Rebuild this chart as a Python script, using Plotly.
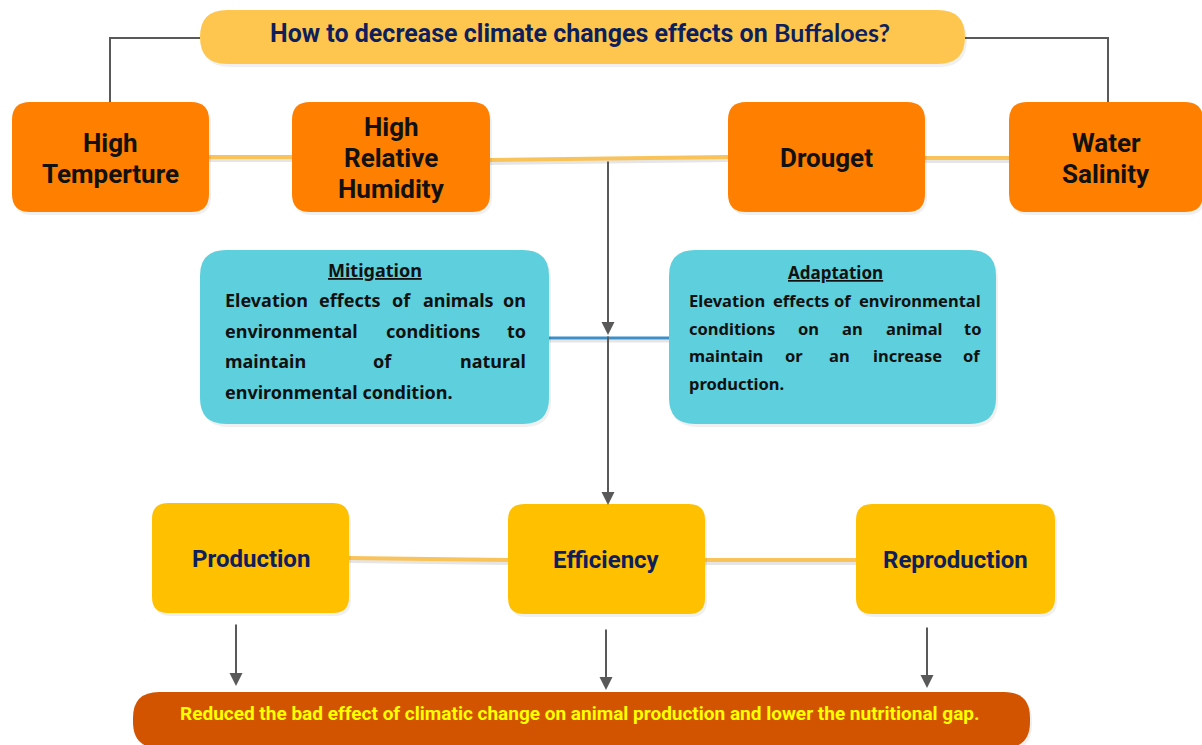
import plotly.graph_objects as go

# ---------------- content ----------------
title_main = "How to decrease climate changes effects on "
title_tail = "Buffaloes?"
cause_labels = ["High<br>Temperture", "High<br>Relative<br>Humidity", "Drouget", "Water<br>Salinity"]
outcome_labels = ["Production", "Efficiency", "Reproduction"]
strategy_titles = ["Mitigation", "Adaptation"]
mitigation_lines = [
    ["Elevation", "effects", "of", "animals", "on"],
    ["environmental", "conditions", "to"],
    ["maintain", "of", "natural"],
    ["environmental condition."],
]
adaptation_lines = [
    ["Elevation", "effects", "of", "environmental"],
    ["conditions", "on", "an", "animal", "to"],
    ["maintain", "or", "an", "increase", "of"],
    ["production."],
]
result_text = "Reduced the bad effect of climatic change on animal production and lower the nutritional gap."

# ---------------- layout geometry (pixels) ----------------
W, H = 1202, 745
cause_boxes = [(12, 209, 102, 212), (292, 490, 102, 212), (728, 925, 102, 212), (1009, 1203, 102, 212)]
outcome_boxes = [(152, 349, 503, 613), (508, 705, 504, 614), (856, 1055, 504, 614)]
strategy_boxes = [(200, 549, 250, 424), (669, 996, 250, 424)]
title_box = (200, 965, 10, 64)
result_box = (133, 1030, 692, 748)

# word x-positions for justified paragraphs:
# first word left edge, middle words centre, last word right edge
mit_word_x = [[223, 350, 401, 458, 528], [223, 433, 528], [223, 382, 528], [223]]
mit_line_y = [300, 331, 361, 392]
ada_word_x = [[687, 801, 843, 983], [687, 808, 852, 914, 983], [687, 794, 839, 907, 983], [687]]
ada_line_y = [300, 328, 355, 383]

C_ORANGE = "#FF7F00"
C_YELLOW = "#FFC000"
C_TITLE = "#FEC64F"
C_CYAN = "#5ECFDC"
C_RESULT = "#D35400"
C_LINK = "#FAC35A"
C_GRAY = "#595959"
C_NAVY = "#0E1F5B"
C_BLUE = "#3D8FC7"


def rrect(x0, x1, y0, y1, r):
    return (f"M {x0+r},{y0} L {x1-r},{y0} Q {x1},{y0} {x1},{y0+r} "
            f"L {x1},{y1-r} Q {x1},{y1} {x1-r},{y1} L {x0+r},{y1} "
            f"Q {x0},{y1} {x0},{y1-r} L {x0},{y0+r} Q {x0},{y0} {x0+r},{y0} Z")


shapes = []
annotations = []


def box(b, r, fill):
    x0, x1, y0, y1 = b
    shapes.append(dict(type="path", path=rrect(x0 + 2, x1 + 2, y0 + 3, y1 + 3, r),
                       fillcolor="rgba(0,0,0,0.06)", line=dict(width=0), layer="below"))
    shapes.append(dict(type="path", path=rrect(x0, x1, y0, y1, r), fillcolor=fill,
                       line=dict(width=0), layer="below"))


def link(x0, y0, x1, y1, color=C_LINK, width=4, shadow=True):
    if shadow:
        shapes.append(dict(type="line", x0=x0, y0=y0 + 3, x1=x1, y1=y1 + 3,
                           line=dict(color="rgba(0,0,0,0.10)", width=width), layer="below"))
    shapes.append(dict(type="line", x0=x0, y0=y0, x1=x1, y1=y1,
                       line=dict(color=color, width=width), layer="below"))


def arrow(x, y0, y1):
    annotations.append(dict(x=x, y=y1, ax=x, ay=y0, xref="x", yref="y", axref="x", ayref="y",
                            text="", showarrow=True, arrowhead=2, arrowsize=1.3,
                            arrowwidth=2, arrowcolor=C_GRAY))


def text(x, y, s, size, color, family="Roboto", anchor="center"):
    annotations.append(dict(x=x, y=y, xref="x", yref="y", text=s, showarrow=False,
                            xanchor=anchor, yanchor="middle",
                            font=dict(family=family, size=size, color=color)))


def multiline(x, yc, label, size, color, spacing):
    parts = label.split("<br>")
    n = len(parts)
    for i, p in enumerate(parts):
        text(x, yc + (i - (n - 1) / 2) * spacing, f"<b>{p}</b>", size, color)


# gray connectors from title
shapes.append(dict(type="path", path="M 200,38 L 110,38 L 110,102",
                   line=dict(color=C_GRAY, width=2), layer="below"))
shapes.append(dict(type="path", path="M 965,38 L 1108,38 L 1108,102",
                   line=dict(color=C_GRAY, width=2), layer="below"))

# yellow links
link(209, 157, 292, 157)
link(490, 160, 728, 157)
link(925, 158, 1009, 158)
link(349, 558, 508, 560)
link(705, 560, 856, 560)
# blue link
link(549, 338, 669, 338, color=C_BLUE, width=3, shadow=True)

# boxes
box(title_box, 27, C_TITLE)
for b in cause_boxes:
    box(b, 18, C_ORANGE)
for b in strategy_boxes:
    box(b, 26, C_CYAN)
for b in outcome_boxes:
    box(b, 16, C_YELLOW)
box(result_box, 26, C_RESULT)

# title text
text(580, 32,
     f"<b>{title_main}</b><span style='font-family:Lato'><b>{title_tail}</b></span>",
     25, C_NAVY)

# cause labels
for lab, (x0, x1, y0, y1) in zip(cause_labels, cause_boxes):
    multiline((x0 + x1) / 2, (y0 + y1) / 2 + 1, lab, 26, "#111111", 31)

# outcome labels
for lab, (x0, x1, y0, y1) in zip(outcome_labels, outcome_boxes):
    text((x0 + x1) / 2, (y0 + y1) / 2 + 1, f"<b>{lab}</b>", 24, C_NAVY)

# strategy boxes text
text(375, 270, f"<b><u>{strategy_titles[0]}</u></b>", 18, "#111111", family="Noto Sans")
text(835, 272, f"<b><u>{strategy_titles[1]}</u></b>", 17, "#111111", family="Noto Sans")


def paragraph(lines, xs, ys, size):
    for words, wx, y in zip(lines, xs, ys):
        n = len(words)
        for i, (w, x) in enumerate(zip(words, wx)):
            if n == 1 or i == 0:
                anchor = "left"
            elif i == n - 1:
                anchor = "right"
            else:
                anchor = "center"
            text(x, y, f"<b>{w}</b>", size, "#111111", family="Noto Sans", anchor=anchor)


paragraph(mitigation_lines, mit_word_x, mit_line_y, 18)
paragraph(adaptation_lines, ada_word_x, ada_line_y, 16.5)

# arrows
arrow(608, 160, 335)
arrow(608, 335, 505)
arrow(236, 623, 686)
arrow(606, 628, 690)
arrow(927, 626, 688)

# result text
text(580, 713, f"<b>{result_text}</b>", 19, "#FFFF00")

fig = go.Figure()
fig.update_layout(
    width=W, height=H, margin=dict(l=0, r=0, t=0, b=0),
    paper_bgcolor="white", plot_bgcolor="white",
    xaxis=dict(range=[0, W], visible=False, fixedrange=True),
    yaxis=dict(range=[H, 0], visible=False, fixedrange=True),
    shapes=shapes, annotations=annotations, showlegend=False,
)
fig.write_html("out.html", config={"displayModeBar": False},
               post_script="document.body.style.margin='0';document.body.style.overflow='hidden';")
